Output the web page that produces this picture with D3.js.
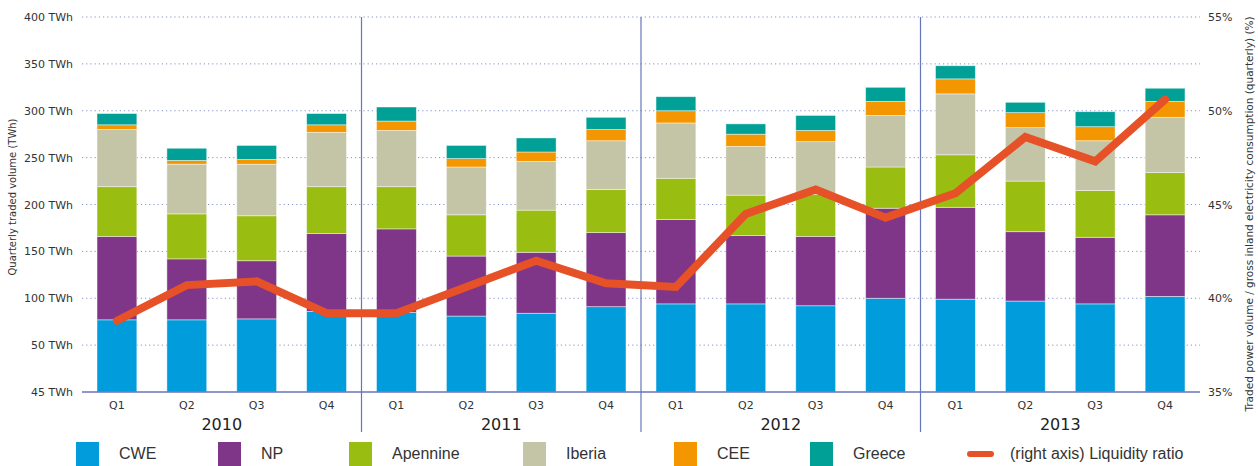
<!DOCTYPE html>
<html><head><meta charset="utf-8">
<script src="https://cdn.jsdelivr.net/npm/d3@7"></script>
<style>body{margin:0;background:#fff;} svg{display:block;}</style>
</head><body>
<svg id="chart" width="1258" height="466"></svg>
<script>
const years = ["2010","2011","2012","2013"];
const quarters = ["Q1","Q2","Q3","Q4"];
const seriesNames = ["CWE","NP","Apennine","Iberia","CEE","Greece"];
const seriesColors = ["#009cdb","#7f3588","#9abd12","#c4c4a6","#f39600","#00a096"];
// values per quarter (TWh), Q1 2010 .. Q4 2013
const CWE      = [77, 77, 78, 86, 85, 81, 84, 91, 94, 94, 92, 100, 99, 97, 94, 102];
const NP       = [89, 65, 62, 83, 89, 64, 65, 79, 90, 73, 74, 96, 98, 74, 71, 87];
const Apennine = [53, 48, 48, 50, 45, 44, 45, 46, 44, 43, 45, 44, 56, 54, 50, 45];
const Iberia   = [61, 53, 55, 58, 60, 51, 52, 52, 59, 52, 56, 55, 65, 57, 53, 59];
const CEE      = [5, 4, 5, 8, 10, 9, 10, 12, 13, 13, 12, 15, 16, 16, 15, 17];
const Greece   = [12, 13, 15, 12, 15, 14, 15, 13, 15, 11, 16, 15, 14, 11, 16, 14];
const liquidity = [38.8, 40.7, 40.9, 39.2, 39.2, 40.6, 42.0, 40.8, 40.6, 44.5, 45.8, 44.3, 45.6, 48.6, 47.3, 50.6];
const leftTickValues = [0, 50, 100, 150, 200, 250, 300, 350, 400];
const leftTickLabels = ["45 TWh","50 TWh","100 TWh","150 TWh","200 TWh","250 TWh","300 TWh","350 TWh","400 TWh"];
const rightTickValues = [35, 40, 45, 50, 55];
const leftTitle = "Quarterly traded volume (TWh)";
const rightTitle = "Traded power volume / gross inland electricity consumption (quarterly) (%)";
const lineLabel = "(right axis) Liquidity ratio";

const seriesData = [CWE, NP, Apennine, Iberia, CEE, Greece];
const keys = years.flatMap(y => quarters.map(q => y + "-" + q));
const rows = keys.map((k, i) => {
  const r = {key: k};
  seriesNames.forEach((s, j) => r[s] = seriesData[j][i]);
  return r;
});

const svg = d3.select("#chart");
const pL = 82, pR = 1200, pT = 17, pB = 392;
const tickFont = "DejaVu Sans, sans-serif";
const textCol = "#333333";
const gridCol = "#8592cc";
const axisCol = "#6676bb";

const x = d3.scaleBand().domain(keys).range([pL, pR]).paddingInner(0.43).paddingOuter(0.215);
const y = d3.scaleLinear().domain([0, 400]).range([pB, pT]);
const y2 = d3.scaleLinear().domain([35, 55]).range([pB, pT]);

// gridlines
svg.append("g").selectAll("line").data(leftTickValues.slice(1)).join("line")
  .attr("x1", pL).attr("x2", pR)
  .attr("y1", d => y(d)).attr("y2", d => y(d))
  .attr("stroke", gridCol).attr("stroke-width", 1).attr("stroke-dasharray", "1.2,3");

// bars
const stack = d3.stack().keys(seriesNames)(rows);
const gBars = svg.append("g");
stack.forEach((layer, li) => {
  gBars.append("g").attr("fill", seriesColors[li]).selectAll("rect").data(layer).join("rect")
    .attr("x", d => x(d.data.key))
    .attr("width", x.bandwidth())
    .attr("y", d => y(d[1]))
    .attr("height", d => y(d[0]) - y(d[1]))
    .attr("stroke", "rgba(255,255,255,0.55)").attr("stroke-width", 0.8);
});

// baseline
svg.append("line").attr("x1", pL).attr("x2", pR).attr("y1", pB).attr("y2", pB)
  .attr("stroke", axisCol).attr("stroke-width", 1.5);

// year dividers
const step = x.step();
svg.append("g").selectAll("line").data(years.slice(1)).join("line")
  .attr("x1", d => x(d + "-Q1") - x.paddingInner() * step / 2)
  .attr("x2", d => x(d + "-Q1") - x.paddingInner() * step / 2)
  .attr("y1", pT).attr("y2", 432)
  .attr("stroke", axisCol).attr("stroke-width", 1.2);

// left axis
const yAxis = d3.axisLeft(y).tickValues(leftTickValues).tickSize(0).tickPadding(9)
  .tickFormat((d, i) => leftTickLabels[i]);
const ga = svg.append("g").attr("transform", `translate(${pL},0)`).call(yAxis);
ga.select(".domain").remove();
ga.selectAll("text").attr("font-family", tickFont).attr("font-size", 11).attr("fill", textCol);

// right axis
const y2Axis = d3.axisRight(y2).tickValues(rightTickValues).tickSize(0).tickPadding(8)
  .tickFormat(d => d + "%");
const gb = svg.append("g").attr("transform", `translate(${pR},0)`).call(y2Axis);
gb.select(".domain").remove();
gb.selectAll("text").attr("font-family", tickFont).attr("font-size", 11).attr("fill", textCol);

// quarter labels
const xAxis = d3.axisBottom(x).tickSize(0).tickPadding(9).tickFormat(d => d.split("-")[1]);
const gx = svg.append("g").attr("transform", `translate(0,${pB})`).call(xAxis);
gx.select(".domain").remove();
gx.selectAll("text").attr("font-family", tickFont).attr("font-size", 11).attr("fill", textCol);

// year labels
svg.append("g").selectAll("text").data(years).join("text")
  .attr("x", d => (x(d + "-Q1") + x(d + "-Q4") + x.bandwidth()) / 2)
  .attr("y", 430)
  .attr("text-anchor", "middle")
  .attr("font-family", tickFont).attr("font-size", 16).attr("fill", "#222")
  .text(d => d);

// axis titles
svg.append("text").attr("transform", `translate(16,197) rotate(-90)`)
  .attr("text-anchor", "middle").attr("font-family", tickFont).attr("font-size", 10)
  .attr("fill", textCol).text(leftTitle);
svg.append("text").attr("transform", `translate(1253,214) rotate(-90)`)
  .attr("text-anchor", "middle").attr("font-family", tickFont).attr("font-size", 10.5)
  .attr("fill", textCol).text(rightTitle);

// liquidity line
const line = d3.line().x((d, i) => x(keys[i]) + x.bandwidth() / 2).y(d => y2(d));
svg.append("path").datum(liquidity).attr("d", line)
  .attr("fill", "none").attr("stroke", "#e65127").attr("stroke-width", 8)
  .attr("stroke-linejoin", "miter").attr("stroke-linecap", "round");

// legend
const legFont = "Liberation Sans, Arial, sans-serif";
const legX = [76, 218, 349, 523, 674, 810];
const legend = svg.append("g");
seriesNames.forEach((s, i) => {
  legend.append("rect").attr("x", legX[i]).attr("y", 442).attr("width", 23).attr("height", 24)
    .attr("fill", seriesColors[i]);
  legend.append("text").attr("x", legX[i] + 43).attr("y", 459)
    .attr("font-family", legFont).attr("font-size", 16).attr("fill", textCol).text(s);
});
legend.append("line").attr("x1", 970).attr("x2", 991).attr("y1", 454).attr("y2", 454)
  .attr("stroke", "#e65127").attr("stroke-width", 6).attr("stroke-linecap", "round");
legend.append("text").attr("x", 1010).attr("y", 459)
  .attr("font-family", legFont).attr("font-size", 16).attr("fill", textCol).text(lineLabel);
</script>
</body></html>
